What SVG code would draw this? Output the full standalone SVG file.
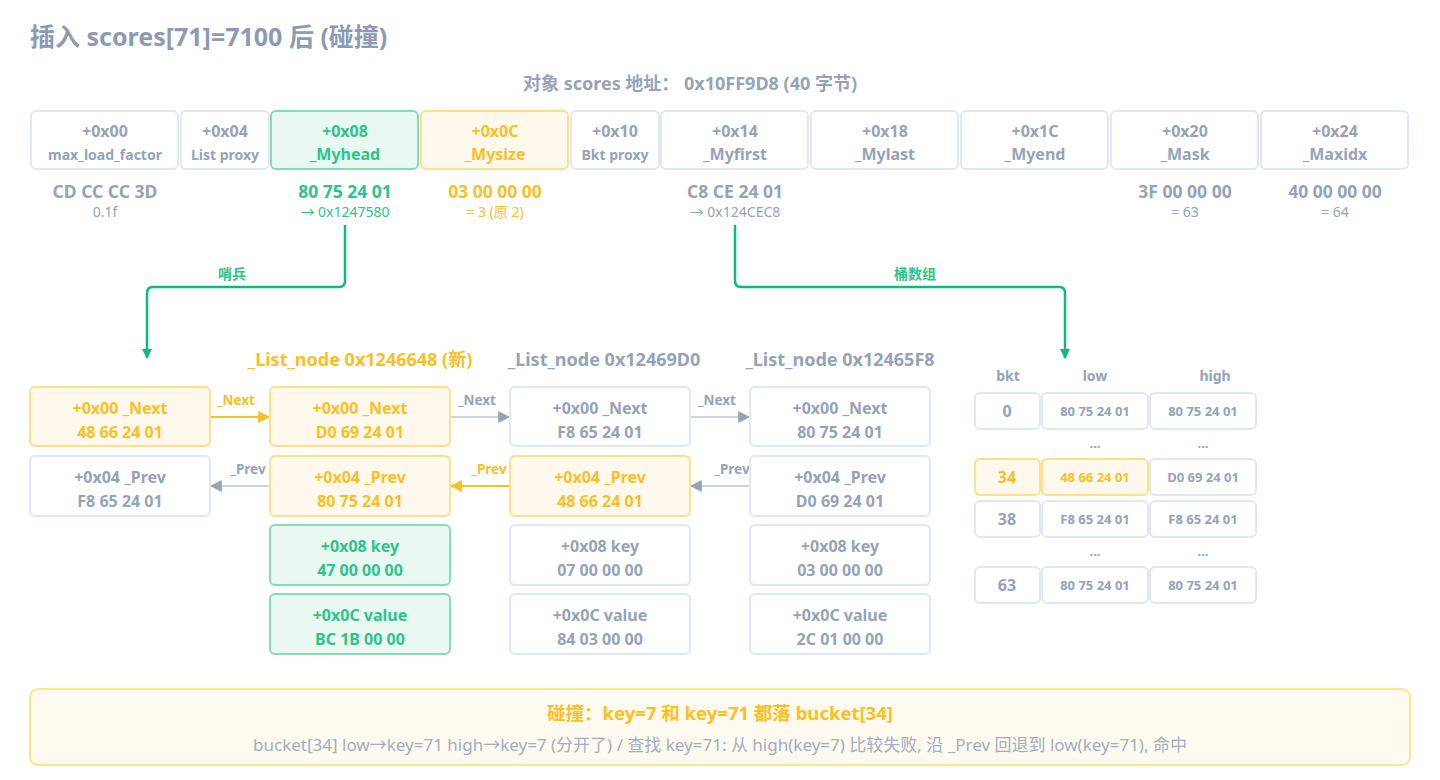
<svg xmlns="http://www.w3.org/2000/svg" width="1440" height="780" viewBox="0 0 1440 780">
<defs>
<marker id="mg" viewBox="0 0 10 10" refX="9" refY="5" markerWidth="10" markerHeight="10" markerUnits="userSpaceOnUse" orient="auto"><path d="M0,0 L10,5 L0,10 z" fill="#10b981"/></marker>
<marker id="my" viewBox="0 0 10 10" refX="9" refY="5" markerWidth="12" markerHeight="12" markerUnits="userSpaceOnUse" orient="auto"><path d="M0,0 L10,5 L0,10 z" fill="#fbbf24"/></marker>
<marker id="ms" viewBox="0 0 10 10" refX="9" refY="5" markerWidth="12" markerHeight="12" markerUnits="userSpaceOnUse" orient="auto"><path d="M0,0 L10,5 L0,10 z" fill="#94a3b8"/></marker>
</defs>
<style>
text{font-family:"Noto Sans","Open Sans","Noto Sans CJK SC",sans-serif;}
.t{font-size:16px;font-weight:700;text-anchor:middle}
.h{font-size:17.5px;font-weight:700;text-anchor:middle}
.s{font-size:14px;text-anchor:middle}
.gray{fill:#94a3b8}
.grn{fill:#2dc48a}
.yel{fill:#fbbf24}
.bx{fill:#ffffff;stroke:#e2e8f0;stroke-width:2}
.bg{fill:#eaf8f2;stroke:#86dcb6;stroke-width:2}
.by{fill:#fef9ec;stroke:#fde08a;stroke-width:2}
.lbl{font-size:13.5px;font-weight:700;text-anchor:middle}
.v{font-size:13px;font-weight:700;text-anchor:middle}
</style>
<rect width="1440" height="780" fill="#ffffff"/>
<text x="30" y="46" style="font-size:25px;font-weight:700" fill="#8c9bb3">插入 scores[71]=7100 后 (碰撞)</text>
<text x="690" y="90" style="font-size:18px;font-weight:700;text-anchor:middle" fill="#94a3b8">对象 scores 地址：  0x10FF9D8 (40 字节)</text>

<g id="f00"><rect class="bx" x="31" y="111" width="147" height="58" rx="5"/><text class="t gray" x="105" y="137">+0x00</text><text class="t gray" x="105" y="160" style="font-size:14px">max_load_factor</text><text class="h gray" x="105" y="198">CD CC CC 3D</text><text class="s gray" x="105" y="217">0.1f</text></g>
<g id="f04"><rect class="bx" x="181" y="111" width="88" height="58" rx="5"/><text class="t gray" x="225" y="137">+0x04</text><text class="t gray" x="225" y="160" style="font-size:14px">List proxy</text></g>
<g id="f08"><rect class="bg" x="271" y="111" width="147" height="58" rx="5"/><text class="t grn" x="345" y="137">+0x08</text><text class="t grn" x="345" y="160">_Myhead</text><text class="h grn" x="345" y="198">80 75 24 01</text><text class="s grn" x="345" y="217">→ 0x1247580</text></g>
<g id="f0c"><rect class="by" x="421" y="111" width="147" height="58" rx="5"/><text class="t yel" x="495" y="137">+0x0C</text><text class="t yel" x="495" y="160">_Mysize</text><text class="h yel" x="495" y="198">03 00 00 00</text><text class="s yel" x="495" y="217">= 3 (原 2)</text></g>
<g id="f10"><rect class="bx" x="571" y="111" width="88" height="58" rx="5"/><text class="t gray" x="615" y="137">+0x10</text><text class="t gray" x="615" y="160" style="font-size:14px">Bkt proxy</text></g>
<g id="f14"><rect class="bx" x="661" y="111" width="147" height="58" rx="5"/><text class="t gray" x="735" y="137">+0x14</text><text class="t gray" x="735" y="160">_Myfirst</text><text class="h gray" x="735" y="198">C8 CE 24 01</text><text class="s gray" x="735" y="217">→ 0x124CEC8</text></g>
<g id="f18"><rect class="bx" x="811" y="111" width="147" height="58" rx="5"/><text class="t gray" x="885" y="137">+0x18</text><text class="t gray" x="885" y="160">_Mylast</text></g>
<g id="f1c"><rect class="bx" x="961" y="111" width="147" height="58" rx="5"/><text class="t gray" x="1035" y="137">+0x1C</text><text class="t gray" x="1035" y="160">_Myend</text></g>
<g id="f20"><rect class="bx" x="1111" y="111" width="147" height="58" rx="5"/><text class="t gray" x="1185" y="137">+0x20</text><text class="t gray" x="1185" y="160">_Mask</text><text class="h gray" x="1185" y="198">3F 00 00 00</text><text class="s gray" x="1185" y="217">= 63</text></g>
<g id="f24"><rect class="bx" x="1261" y="111" width="147" height="58" rx="5"/><text class="t gray" x="1335" y="137">+0x24</text><text class="t gray" x="1335" y="160">_Maxidx</text><text class="h gray" x="1335" y="198">40 00 00 00</text><text class="s gray" x="1335" y="217">= 64</text></g>

<g id="connectors" fill="none">
<path d="M345,225 V281 Q345,287 339,287 H153 Q147,287 147,293 V358" stroke="#10b981" stroke-width="2.5" marker-end="url(#mg)"/>
<path d="M735,225 V281 Q735,287 741,287 H1059 Q1065,287 1065,293 V358" stroke="#10b981" stroke-width="2.5" marker-end="url(#mg)"/>
<path d="M210,417 H269" stroke="#fbbf24" stroke-width="2" marker-end="url(#my)"/>
<path d="M450,417 H509" stroke="#cbd5e1" stroke-width="2" marker-end="url(#ms)"/>
<path d="M690,417 H749" stroke="#cbd5e1" stroke-width="2" marker-end="url(#ms)"/>
<path d="M270,486 H211" stroke="#cbd5e1" stroke-width="2" marker-end="url(#ms)"/>
<path d="M510,486 H451" stroke="#fbbf24" stroke-width="2" marker-end="url(#my)"/>
<path d="M750,486 H691" stroke="#cbd5e1" stroke-width="2" marker-end="url(#ms)"/>
<text class="lbl grn" x="232" y="279" style="font-size:14px">哨兵</text>
<text class="lbl grn" x="915" y="279" style="font-size:14px">桶数组</text>
<text class="lbl yel" x="236" y="405">_Next</text>
<text class="lbl gray" x="477" y="405">_Next</text>
<text class="lbl gray" x="717" y="405">_Next</text>
<text class="lbl gray" x="248" y="474">_Prev</text>
<text class="lbl yel" x="489" y="474">_Prev</text>
<text class="lbl gray" x="732" y="474">_Prev</text>
</g>

<text x="360" y="366" style="font-size:18px;font-weight:700;text-anchor:middle" fill="#fbbf24">_List_node 0x1246648 (新)</text>
<text x="604" y="366" style="font-size:18px;font-weight:700;text-anchor:middle" fill="#94a3b8">_List_node 0x12469D0</text>
<text x="840" y="366" style="font-size:18px;font-weight:700;text-anchor:middle" fill="#94a3b8">_List_node 0x12465F8</text>

<g id="sentinel">
<rect class="by" x="30" y="387" width="180" height="59" rx="5"/><text class="t yel" x="120" y="414">+0x00 _Next</text><text class="t yel" x="120" y="438">48 66 24 01</text>
<rect class="bx" x="30" y="456" width="180" height="60" rx="5"/><text class="t gray" x="120" y="483">+0x04 _Prev</text><text class="t gray" x="120" y="507">F8 65 24 01</text>
</g>
<g id="node_new">
<rect class="by" x="270" y="387" width="180" height="59" rx="5"/><text class="t yel" x="360" y="414">+0x00 _Next</text><text class="t yel" x="360" y="438">D0 69 24 01</text>
<rect class="by" x="270" y="456" width="180" height="60" rx="5"/><text class="t yel" x="360" y="483">+0x04 _Prev</text><text class="t yel" x="360" y="507">80 75 24 01</text>
<rect class="bg" x="270" y="525" width="180" height="60" rx="5"/><text class="t grn" x="360" y="552">+0x08 key</text><text class="t grn" x="360" y="576">47 00 00 00</text>
<rect class="bg" x="270" y="594" width="180" height="60" rx="5"/><text class="t grn" x="360" y="621">+0x0C value</text><text class="t grn" x="360" y="645">BC 1B 00 00</text>
</g>
<g id="node_69d0">
<rect class="bx" x="510" y="387" width="180" height="59" rx="5"/><text class="t gray" x="600" y="414">+0x00 _Next</text><text class="t gray" x="600" y="438">F8 65 24 01</text>
<rect class="by" x="510" y="456" width="180" height="60" rx="5"/><text class="t yel" x="600" y="483">+0x04 _Prev</text><text class="t yel" x="600" y="507">48 66 24 01</text>
<rect class="bx" x="510" y="525" width="180" height="60" rx="5"/><text class="t gray" x="600" y="552">+0x08 key</text><text class="t gray" x="600" y="576">07 00 00 00</text>
<rect class="bx" x="510" y="594" width="180" height="60" rx="5"/><text class="t gray" x="600" y="621">+0x0C value</text><text class="t gray" x="600" y="645">84 03 00 00</text>
</g>
<g id="node_65f8">
<rect class="bx" x="750" y="387" width="180" height="59" rx="5"/><text class="t gray" x="840" y="414">+0x00 _Next</text><text class="t gray" x="840" y="438">80 75 24 01</text>
<rect class="bx" x="750" y="456" width="180" height="60" rx="5"/><text class="t gray" x="840" y="483">+0x04 _Prev</text><text class="t gray" x="840" y="507">D0 69 24 01</text>
<rect class="bx" x="750" y="525" width="180" height="60" rx="5"/><text class="t gray" x="840" y="552">+0x08 key</text><text class="t gray" x="840" y="576">03 00 00 00</text>
<rect class="bx" x="750" y="594" width="180" height="60" rx="5"/><text class="t gray" x="840" y="621">+0x0C value</text><text class="t gray" x="840" y="645">2C 01 00 00</text>
</g>

<g id="buckets">
<text class="lbl gray" x="1008" y="381" style="font-size:14px">bkt</text>
<text class="lbl gray" x="1095" y="381" style="font-size:14px">low</text>
<text class="lbl gray" x="1215" y="381" style="font-size:14px">high</text>
<rect class="bx" x="975" y="393" width="65" height="36" rx="5"/><text class="t gray" x="1007" y="417">0</text>
<rect class="bx" x="1042" y="393" width="106" height="36" rx="5"/><text class="v gray" x="1095" y="416">80 75 24 01</text>
<rect class="bx" x="1150" y="393" width="106" height="36" rx="5"/><text class="v gray" x="1203" y="416">80 75 24 01</text>
<text class="v gray" x="1095" y="448">...</text><text class="v gray" x="1203" y="448">...</text>
<rect class="by" x="975" y="459" width="65" height="36" rx="5"/><text class="t yel" x="1007" y="483">34</text>
<rect class="by" x="1042" y="459" width="106" height="36" rx="5"/><text class="v yel" x="1095" y="482">48 66 24 01</text>
<rect class="bx" x="1150" y="459" width="106" height="36" rx="5"/><text class="v gray" x="1203" y="482">D0 69 24 01</text>
<rect class="bx" x="975" y="501" width="65" height="36" rx="5"/><text class="t gray" x="1007" y="525">38</text>
<rect class="bx" x="1042" y="501" width="106" height="36" rx="5"/><text class="v gray" x="1095" y="524">F8 65 24 01</text>
<rect class="bx" x="1150" y="501" width="106" height="36" rx="5"/><text class="v gray" x="1203" y="524">F8 65 24 01</text>
<text class="v gray" x="1095" y="556">...</text><text class="v gray" x="1203" y="556">...</text>
<rect class="bx" x="975" y="567" width="65" height="36" rx="5"/><text class="t gray" x="1007" y="591">63</text>
<rect class="bx" x="1042" y="567" width="106" height="36" rx="5"/><text class="v gray" x="1095" y="590">80 75 24 01</text>
<rect class="bx" x="1150" y="567" width="106" height="36" rx="5"/><text class="v gray" x="1203" y="590">80 75 24 01</text>
</g>

<g id="note">
<rect x="30" y="689" width="1380" height="76" rx="8" fill="#fefaf0" stroke="#fde68a" stroke-width="2"/>
<text x="720" y="720" style="font-size:18.5px;font-weight:700;text-anchor:middle" fill="#fbbf24">碰撞：key=7 和 key=71 都落 bucket[34]</text>
<text x="720" y="751" style="font-size:17px;text-anchor:middle" fill="#a0aec0">bucket[34] low→key=71 high→key=7 (分开了) / 查找 key=71: 从 high(key=7) 比较失败, 沿 _Prev 回退到 low(key=71), 命中</text>
</g>
</svg>
